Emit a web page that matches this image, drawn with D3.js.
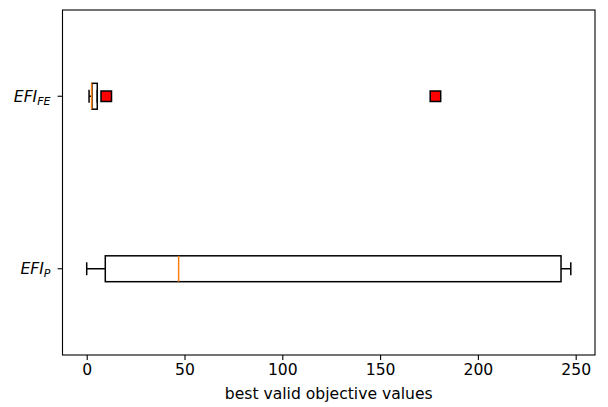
<!DOCTYPE html>
<meta charset="utf-8">
<style>
  body { margin: 0; background: #fff; }
  text { font-family: "DejaVu Sans", sans-serif; fill: #000; }
</style>
<script src="https://d3js.org/d3.v7.min.js"></script>
<div id="chart"></div>
<script>
// box statistics, one entry per category (bottom to top)
var labelBase = ["EFI", "EFI"];
var labelSub = ["P", "FE"];
var positions = [1, 2];
var whiskerLow = [0, 1.2];
var q1 = [9.5, 2.7];
var median = [47, 2.5];
var q3 = [242.5, 5.4];
var whiskerHigh = [247.5, 5.4];
var fliers = [[], [10, 178.3]];
var xTicks = [0, 50, 100, 150, 200, 250];

var W = 608, H = 407;
var margin = {left: 62.5, right: 13, top: 10, bottom: 52};
var fs = "15.6px";

var svg = d3.select("#chart").append("svg")
    .attr("width", W).attr("height", H);

// x domain like matplotlib autoscale: data range + 5% each side
var lo = d3.min(whiskerLow), hi = d3.max(whiskerHigh.concat(d3.merge(fliers)));
var pad = (hi - lo) * 0.05;
var x = d3.scaleLinear()
    .domain([lo - pad, hi + pad])
    .range([margin.left, W - margin.right]);
var y = d3.scaleLinear()
    .domain([0.5, 2.5])
    .range([H - margin.bottom, margin.top]);

var boxHalf = Math.abs(y(0.075) - y(0));
var capHalf = boxHalf / 2;
var lw = 1.5;

var groups = svg.selectAll("g.box")
  .data(positions)
  .enter().append("g").attr("class", "box");

// whiskers
groups.append("line")
    .attr("x1", function(d, i) { return x(whiskerLow[i]); })
    .attr("x2", function(d, i) { return x(q1[i]); })
    .attr("y1", function(d) { return y(d); }).attr("y2", function(d) { return y(d); })
    .attr("stroke", "#000").attr("stroke-width", lw);
groups.append("line")
    .attr("x1", function(d, i) { return x(q3[i]); })
    .attr("x2", function(d, i) { return x(whiskerHigh[i]); })
    .attr("y1", function(d) { return y(d); }).attr("y2", function(d) { return y(d); })
    .attr("stroke", "#000").attr("stroke-width", lw);
// caps
groups.append("line")
    .attr("x1", function(d, i) { return x(whiskerLow[i]); })
    .attr("x2", function(d, i) { return x(whiskerLow[i]); })
    .attr("y1", function(d) { return y(d) - capHalf; }).attr("y2", function(d) { return y(d) + capHalf; })
    .attr("stroke", "#000").attr("stroke-width", lw);
groups.append("line")
    .attr("x1", function(d, i) { return x(whiskerHigh[i]); })
    .attr("x2", function(d, i) { return x(whiskerHigh[i]); })
    .attr("y1", function(d) { return y(d) - capHalf; }).attr("y2", function(d) { return y(d) + capHalf; })
    .attr("stroke", "#000").attr("stroke-width", lw);
// box
groups.append("rect")
    .attr("x", function(d, i) { return x(q1[i]); })
    .attr("width", function(d, i) { return x(q3[i]) - x(q1[i]); })
    .attr("y", function(d) { return y(d) - boxHalf; })
    .attr("height", boxHalf * 2)
    .attr("fill", "none").attr("stroke", "#000").attr("stroke-width", lw);
// median
groups.append("line")
    .attr("x1", function(d, i) { return x(median[i]); })
    .attr("x2", function(d, i) { return x(median[i]); })
    .attr("y1", function(d) { return y(d) - boxHalf; }).attr("y2", function(d) { return y(d) + boxHalf; })
    .attr("stroke", "#ff7f0e").attr("stroke-width", lw);
// fliers
var ms = 10.5;
groups.each(function(p, i) {
  d3.select(this).selectAll("rect.flier")
    .data(fliers[i])
    .enter().append("rect").attr("class", "flier")
      .attr("x", function(v) { return x(v) - ms / 2; })
      .attr("y", y(p) - ms / 2)
      .attr("width", ms).attr("height", ms)
      .attr("fill", "#ff0000").attr("stroke", "#000").attr("stroke-width", 1.5);
});

// frame
svg.append("rect")
    .attr("x", margin.left).attr("y", margin.top)
    .attr("width", W - margin.right - margin.left)
    .attr("height", H - margin.bottom - margin.top)
    .attr("fill", "none").attr("stroke", "#000").attr("stroke-width", 1.1);

// x axis
var xAxis = svg.append("g")
    .attr("transform", "translate(0," + (H - margin.bottom) + ")")
    .call(d3.axisBottom(x).tickValues(xTicks).tickSize(4.9).tickPadding(4.4).tickSizeOuter(0));
xAxis.select(".domain").remove();
xAxis.selectAll("line").attr("stroke", "#000").attr("stroke-width", 1.1);
xAxis.selectAll("text").style("font-size", fs).style("font-family", "DejaVu Sans");

svg.append("text")
    .attr("x", (margin.left + W - margin.right) / 2)
    .attr("y", 399)
    .attr("text-anchor", "middle")
    .style("font-size", fs)
    .text("best valid objective values");

// y ticks + mathtext style labels
positions.forEach(function(p, i) {
  svg.append("line")
      .attr("x1", margin.left - 4.9).attr("x2", margin.left)
      .attr("y1", y(p)).attr("y2", y(p))
      .attr("stroke", "#000").attr("stroke-width", 1.1);
  var t = svg.append("text")
      .attr("x", margin.left - 12)
      .attr("y", y(p) + 5.5)
      .attr("text-anchor", "end")
      .style("font-size", fs)
      .style("font-style", "italic");
  t.append("tspan").text(labelBase[i]);
  t.append("tspan").attr("dy", 3).style("font-size", "11px").text(labelSub[i]);
});
</script>
